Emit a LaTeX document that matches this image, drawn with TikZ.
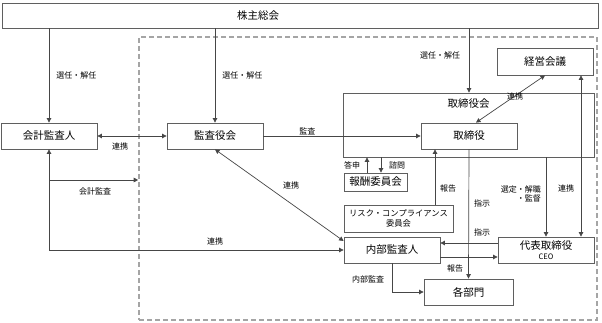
\documentclass[tikz,border=0pt]{standalone}
\usepackage{fontspec}
\newfontfamily\jpfont{Noto Sans CJK JP}
\usetikzlibrary{arrows.meta,positioning}
\definecolor{boxgray}{RGB}{95,95,95}
\definecolor{linegray}{RGB}{70,70,70}
\definecolor{dashgray}{RGB}{165,165,165}
\begin{document}
\begin{tikzpicture}[
    x=1pt,y=-1pt,
    box/.style={rectangle,draw=boxgray,line width=0.8pt,inner sep=1pt,align=center,
      font=\jpfont\fontsize{10.5}{11.5}\selectfont},
    area/.style={rectangle,draw=dashgray,line width=1.6pt,dash pattern=on 5pt off 3pt},
    lbl/.style={inner sep=1pt,font=\jpfont\fontsize{8}{9.5}\selectfont},
    arrow/.style={-{Triangle[length=4.5pt,width=4.5pt]},draw=linegray,line width=0.7pt},
    biarrow/.style={{Triangle[length=4.5pt,width=4.5pt]}-{Triangle[length=4.5pt,width=4.5pt]},
      draw=linegray,line width=0.7pt}
  ]
    \useasboundingbox (0,0) rectangle (602,323);
    \node[area,minimum width=458,minimum height=283] (group) at (368,178.5) {};
    \node[box,minimum width=596,minimum height=25] (agm) at (300,15.5) {};
    \node[lbl,font=\jpfont\fontsize{10.5}{11.5}\selectfont] (agmtitle) at (258,15.5) {株主総会};
    \node[box,minimum width=96,minimum height=26] (acct) at (49,136) {会計監査人};
    \node[box,minimum width=96,minimum height=26] (kansa) at (215,136) {監査役会};
    \node[box,minimum width=96,minimum height=27] (mgmt) at (545,61.5) {経営会議};
    \node[box,minimum width=251,minimum height=64] (board) at (468.5,125) {};
    \node[lbl,font=\jpfont\fontsize{10.5}{11.5}\selectfont,below=5pt of board.north] (boardtitle) {取締役会};
    \node[box,minimum width=96,minimum height=26] (director) at (469,136) {取締役};
    \node[box,minimum width=63,minimum height=18] (reward) at (375.5,182) {報酬委員会};
    \node[box,minimum width=109,minimum height=27,font=\jpfont\fontsize{8.3}{10}\selectfont]
      (risk) at (398.5,218.5) {リスク・コンプライアンス\\委員会};
    \node[box,minimum width=96,minimum height=26] (internal) at (392,250) {内部監査人};
    \node[box,minimum width=96,minimum height=26,font=\jpfont\fontsize{10.5}{10}\selectfont]
      (ceo) at (546,250) {代表取締役\\{\fontsize{7.5}{8}\selectfont CEO}};
    \node[box,minimum width=89,minimum height=26] (depts) at (468.5,292) {各部門};

    \draw[arrow] (agm.south -| acct.north) -- node[lbl,pos=0.5,right=6pt] {選任・解任} (acct.north);
    \draw[arrow] (agm.south -| kansa.north) -- node[lbl,pos=0.5,right=6pt] {選任・解任} (kansa.north);
    \draw[arrow] (agm.south -| director.north) -- (board.north -| director.north);
    \node[lbl] at (440,55) {選任・解任};
    \draw[biarrow] (acct.east) -- (kansa.west);
    \node[lbl] at (120,146) {連携};
    \coordinate (branch) at (49,180);
    \draw[arrow] (branch) -- (branch -| group.west);
    \node[lbl] at (95,191) {会計監査};
    \draw[biarrow] (acct.south) |- (internal.west);
    \node[lbl] at (215,241) {連携};
    \draw[arrow] (kansa.east) -- node[lbl,pos=0.28,above] {監査} (director.west);
    \draw[biarrow] (kansa.south) -- ([yshift=9pt]internal.west);
    \node[lbl] at (291,185) {連携};
    \draw[biarrow] ([xshift=7pt]director.north) -- (mgmt.south);
    \node[lbl] at (515,96) {連携};
    \draw[biarrow] ([xshift=36pt]mgmt.south) -- ([xshift=35pt]ceo.north);
    \node[lbl] at (566,188) {連携};
    \draw[arrow] (board.south -| ceo.north) -- (ceo.north);
    \node[lbl,align=right,anchor=east] at (542,194) {選定・解職\\・監督};
    \draw[arrow] ([xshift=-8.5pt]reward.north) -- ([xshift=-8.5pt]reward.north |- board.south);
    \draw[arrow] ([xshift=5.5pt]reward.north |- board.south) -- ([xshift=5.5pt]reward.north);
    \node[lbl] at (352,165) {答申};
    \node[lbl] at (397,165) {諮問};
    \draw[arrow] ([xshift=36.5pt]risk.north) -- ([xshift=36.5pt]risk.north |- director.south);
    \node[lbl] at (448,188) {報告};
    \draw[arrow] (director.south) -- (depts.north);
    \node[lbl] at (482,203) {指示};
    \draw[arrow] ([yshift=7pt]ceo.west) -- ([yshift=7pt]ceo.west -| internal.east);
    \node[lbl] at (482,232) {指示};
    \draw[arrow] ([yshift=-7pt]internal.east) -- ([yshift=-7pt]internal.east -| ceo.west);
    \node[lbl] at (455,268) {報告};
    \draw[arrow] (internal.south) |- (depts.west);
    \node[lbl] at (368,279) {内部監査};
  \end{tikzpicture}
\end{document}
